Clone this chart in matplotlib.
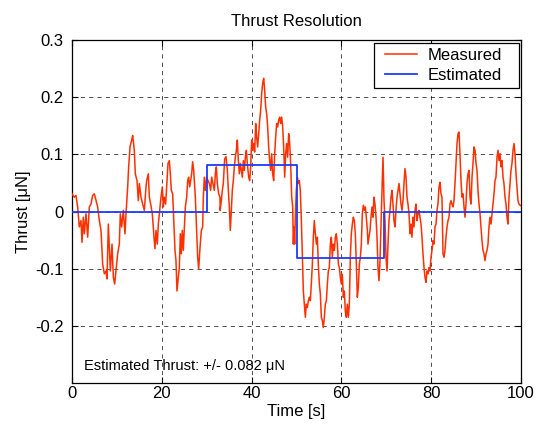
import matplotlib
matplotlib.use("Agg")
import matplotlib.pyplot as plt
from matplotlib.lines import Line2D
from matplotlib.legend_handler import HandlerLine2D

plt.rcParams['font.family'] = ['Liberation Sans', 'DejaVu Sans']
plt.rcParams['lines.scale_dashes'] = False

# ---- Measured thrust ----
t_a = [0, 0.52, 0.89, 1.26, 1.63, 2.0, 2.23, 2.52, 2.75, 3.12, 3.49, 3.86, 4.23, 4.6, 4.97, 5.35, 5.72,
       6.09, 6.46, 6.83, 7.2, 7.57, 7.8, 8.09, 8.32, 8.54, 8.91, 9.21, 9.5, 9.8, 10.17, 10.54, 10.76,
       11.06, 11.43, 11.8, 12.03, 12.4, 12.62, 12.92, 13.29, 13.51, 13.88, 14.1, 14.48, 14.77, 15.0,
       15.37, 15.74, 16.11, 16.48]
v_a = [0.031, 0.025, 0.028, 0.008, -0.027, -0.016, -0.054, -0.010, -0.039, -0.004, -0.045, 0.008,
       0.013, 0.028, 0.031, 0.019, 0.008, -0.016, -0.033, -0.092, -0.109, -0.104, -0.118, -0.022,
       -0.063, -0.104, -0.057, -0.115, -0.127, -0.104, -0.074, -0.057, -0.004, -0.027, 0.002, -0.039,
       -0.004, 0.043, 0.078, 0.113, 0.125, 0.133, 0.107, 0.066, 0.054, 0.019, 0.049, 0.025, 0.013,
       0.002, 0.043]

t_b = [16.63, 17.0, 17.22, 17.52, 17.89, 18.26, 18.48, 18.71, 19.0, 19.23, 19.6, 19.82, 20.12, 20.34,
       20.56, 20.86, 21.09, 21.38, 21.68, 21.9, 22.12, 22.42, 22.64, 22.94, 23.16, 23.38, 23.61, 23.9,
       24.13, 24.35, 24.57, 24.79, 25.02, 25.24, 25.54, 25.76, 25.98, 26.21, 26.43, 26.65, 26.87, 27.1,
       27.24, 27.47, 27.77, 27.99, 28.21, 28.51, 28.81, 29.1, 29.25, 29.47, 29.7, 29.99, 30.29, 30.59,
       30.88, 31.11, 31.4, 31.7, 31.92, 32.15, 32.37, 32.67, 32.96]
v_b = [0.054, 0.066, 0.025, 0.013, -0.004, -0.045, -0.065, -0.033, -0.057, -0.022, 0.008, 0.025,
       0.043, 0.008, 0.025, 0.013, 0.043, 0.084, 0.089, 0.066, 0.037, 0.031, -0.010, -0.068, -0.086,
       -0.139, -0.121, -0.098, -0.039, -0.074, -0.033, -0.068, -0.027, 0.008, 0.025, 0.054, 0.060,
       0.043, 0.054, 0.066, 0.087, 0.072, 0.054, 0.025, -0.033, -0.080, -0.101, -0.063, -0.033,
       -0.027, 0.025, 0.060, 0.037, 0.060, 0.054, 0.049, 0.037, 0.060, 0.049, 0.037, 0.066, 0.078,
       0.049, 0.031, 0.025]

t_c = [33.0, 33.26, 33.48, 33.7, 34.0, 34.3, 34.6, 34.82, 35.04, 35.26, 35.48, 35.71, 35.93, 36.15,
       36.38, 36.6, 36.82, 37.05, 37.27, 37.49, 37.71, 37.94, 38.16, 38.38, 38.61, 38.83, 39.05, 39.35,
       39.57, 39.79, 40.02, 40.24, 40.46, 40.68, 40.91, 41.13, 41.35, 41.57, 41.8, 42.02, 42.24, 42.46,
       42.69, 42.91, 43.13, 43.36, 43.58, 43.8, 44.02, 44.25, 44.47, 44.69, 44.92, 45.14, 45.36, 45.58,
       45.81, 46.03, 46.25, 46.47, 46.7, 46.92, 47.14, 47.37, 47.59, 47.81, 48.03, 48.26, 48.48, 48.7,
       48.93, 49.15, 49.3, 49.44]
v_c = [0.002, 0.019, 0.037, 0.049, 0.092, 0.096, 0.072, 0.037, 0.008, -0.033, 0.002, 0.037, 0.054,
       0.078, 0.095, 0.107, 0.125, 0.089, 0.066, 0.084, 0.072, 0.060, 0.089, 0.072, 0.095, 0.107,
       0.084, 0.060, 0.054, 0.078, 0.125, 0.107, 0.119, 0.104, 0.154, 0.130, 0.113, 0.136, 0.160,
       0.177, 0.206, 0.224, 0.233, 0.212, 0.183, 0.171, 0.148, 0.113, 0.089, 0.072, 0.101, 0.066,
       0.054, 0.101, 0.130, 0.154, 0.148, 0.160, 0.165, 0.154, 0.165, 0.148, 0.113, 0.060, 0.101,
       0.119, 0.095, 0.136, 0.119, 0.084, 0.025, 0.008, -0.057, -0.027]

t_d = [49.59, 49.74, 49.96, 50.19, 50.41, 50.63, 50.85, 51.08, 51.3, 51.52, 51.75, 51.97, 52.19, 52.41,
       52.64, 52.86, 53.08, 53.3, 53.53, 53.75, 53.97, 54.2, 54.42, 54.64, 54.86, 55.09, 55.31, 55.53,
       55.76, 55.98, 56.2, 56.42, 56.65, 56.87, 57.09, 57.31, 57.54, 57.76, 57.98, 58.2, 58.43, 58.65,
       58.87, 59.1, 59.32, 59.54, 59.76, 59.99, 60.21, 60.43, 60.65, 60.88, 61.1, 61.32, 61.55, 61.77,
       61.99, 62.21, 62.44, 62.66, 62.88, 63.1, 63.33, 63.55, 63.77, 64.0, 64.22, 64.44, 64.66, 64.89,
       65.11, 65.33, 65.55, 65.78, 65.92]
v_d = [-0.057, -0.010, 0.037, 0.060, 0.049, 0.054, 0.037, -0.016, -0.074, -0.139, -0.162, -0.185,
       -0.162, -0.168, -0.156, -0.150, -0.156, -0.127, -0.092, -0.045, -0.016, -0.039, -0.057, -0.045,
       -0.092, -0.127, -0.144, -0.185, -0.191, -0.203, -0.185, -0.162, -0.156, -0.127, -0.104, -0.098,
       -0.057, -0.045, -0.080, -0.057, -0.068, -0.045, -0.039, -0.057, -0.092, -0.098, -0.115, -0.127,
       -0.110, -0.150, -0.139, -0.175, -0.185, -0.162, -0.185, -0.162, -0.080, -0.039, -0.022, -0.010,
       -0.016, -0.039, -0.092, -0.150, -0.133, -0.092, -0.080, -0.057, -0.004, 0.011, 0.002, 0.008,
       -0.010, -0.033, -0.057]

t_e = [66.15, 66.37, 66.59, 66.82, 67.04, 67.26, 67.48, 67.71, 67.93, 68.15, 68.37, 68.6, 68.82, 69.04,
       69.27, 69.49, 69.71, 69.93, 70.16, 70.38, 70.6, 70.82, 71.05, 71.27, 71.49, 71.71, 71.94, 72.16,
       72.38, 72.61, 72.83, 73.05, 73.27, 73.5, 73.72, 73.94, 74.16, 74.39, 74.61, 74.83, 75.06, 75.28,
       75.5, 75.72, 75.95, 76.17, 76.39, 76.61, 76.84, 77.06, 77.28, 77.51, 77.73, 77.95, 78.17, 78.4,
       78.62, 78.84, 79.06, 79.29, 79.51, 79.73, 79.96, 80.18, 80.4, 80.62, 80.85, 81.07, 81.29, 81.51,
       81.74, 81.96, 82.18, 82.4]
v_e = [-0.045, -0.033, -0.010, 0.008, -0.010, 0.025, 0.013, -0.010, -0.045, -0.098, -0.121, -0.086,
       -0.022, 0.037, 0.095, 0.019, -0.016, -0.080, -0.104, -0.057, -0.016, 0.002, 0.025, 0.037, 0.013,
       -0.016, -0.027, 0.002, 0.025, 0.037, 0.049, 0.031, 0.013, 0.002, 0.019, 0.049, 0.075, 0.060,
       0.025, 0.013, -0.004, -0.039, -0.022, -0.045, -0.010, -0.027, 0.002, 0.013, -0.016, -0.004,
       0.002, -0.010, -0.022, -0.045, -0.074, -0.098, -0.115, -0.124, -0.104, -0.109, -0.098, -0.104,
       -0.080, -0.068, -0.051, -0.057, -0.027, -0.022, 0.002, 0.013, 0.043, 0.051, 0.031, 0.025]

t_f = [82.63, 82.85, 83.07, 83.3, 83.52, 83.74, 83.96, 84.19, 84.41, 84.63, 84.86, 85.08, 85.3, 85.52,
       85.75, 85.97, 86.19, 86.41, 86.64, 86.86, 87.08, 87.31, 87.53, 87.75, 87.97, 88.2, 88.42, 88.64,
       88.86, 89.09, 89.31, 89.53, 89.76, 89.98, 90.2, 90.42, 90.65, 90.87, 91.09, 91.31, 91.54, 91.76,
       91.98, 92.21, 92.43, 92.65, 92.87, 93.1, 93.32, 93.54, 93.76, 93.99, 94.21, 94.43, 94.66, 94.88,
       95.1, 95.32, 95.55, 95.77, 95.99, 96.21, 96.44, 96.66, 96.88, 97.1, 97.33, 97.55, 97.77, 97.99,
       98.22, 98.44, 98.66, 98.89, 99.11, 99.33, 99.55, 99.78, 100.0]
v_f = [-0.074, -0.080, -0.068, -0.045, -0.027, -0.016, -0.010, 0.013, 0.019, 0.013, 0.008, 0.019,
       0.049, 0.084, 0.119, 0.136, 0.139, 0.101, 0.054, 0.025, 0.031, 0.008, -0.010, 0.013, 0.049,
       0.066, 0.072, 0.025, 0.013, 0.060, 0.084, 0.113, 0.107, 0.084, 0.072, 0.037, 0.013, -0.004,
       -0.027, -0.051, -0.068, -0.074, -0.086, -0.074, -0.068, -0.057, -0.027, -0.010, -0.022, -0.004,
       0.013, 0.031, 0.054, 0.060, 0.095, 0.107, 0.089, 0.101, 0.078, 0.089, 0.060, 0.049, 0.025,
       0.013, -0.010, -0.022, 0.025, 0.049, 0.072, 0.084, 0.107, 0.119, 0.101, 0.066, 0.043, 0.019,
       0.013, 0.011, 0.010]

# ---- Estimated thrust (step levels) ----
est_t = [0, 30, 50, 69.5, 100]
est_v = [0, 0.082, -0.082, 0, 0]

x_ticks = [0, 20, 40, 60, 80, 100]
y_ticks = [-0.2, -0.1, 0, 0.1, 0.2, 0.3]
y_tick_labels = ['-0.2', '-0.1', '0', '0.1', '0.2', '0.3']

meas_t = t_a + t_b + t_c + t_d + t_e + t_f
meas_v = v_a + v_b + v_c + v_d + v_e + v_f

FS = 12

fig = plt.figure(figsize=(5.41, 4.24), dpi=100)
ax = fig.add_axes([72/541, 1 - 383/424, 449/541, 343/424])

red = '#ff3000'
blue = '#1a3cff'
ax.plot(meas_t, meas_v, color=red, lw=1.1, label='Measured', zorder=3)
ax.plot(est_t, est_v, color=blue, lw=1.3, drawstyle='steps-post', label='Estimated', zorder=4)

ax.set_xlim(0, 100)
ax.set_ylim(-0.3, 0.3)
ax.set_xticks(x_ticks)
ax.set_xticklabels([str(v) for v in x_ticks])
ax.set_yticks(y_ticks)
ax.set_yticklabels(y_tick_labels)
ax.tick_params(axis='both', direction='in', length=4, width=0.8, top=True, right=True,
               labelsize=FS, colors='black')
ax.tick_params(axis='x', pad=2)
ax.tick_params(axis='y', pad=6)
ax.grid(True, color='black', linestyle=(0, (3, 3)), linewidth=0.6, alpha=0.8)
for s in ax.spines.values():
    s.set_linewidth(0.9)
    s.set_color('black')

ax.set_title('Thrust Resolution', fontsize=FS, pad=10)
ax.set_xlabel('Time [s]', fontsize=FS, labelpad=2)
ax.set_ylabel('Thrust [μN]', fontsize=FS, labelpad=3)

ax.text(2.6, -0.270, 'Estimated Thrust: +/- 0.082 μN', fontsize=10.5, va='center', ha='left')

leg = ax.legend(loc='upper left', bbox_to_anchor=(0.6726, 0.0, 0.3229, 0.9913), mode='expand',
                fontsize=FS, frameon=True, fancybox=False, framealpha=1, edgecolor='black',
                borderpad=0.3, handlelength=2.63, labelspacing=0.3, handletextpad=0.3,
                borderaxespad=0.0,
                handler_map={Line2D: HandlerLine2D(numpoints=2, marker_pad=0.36)})
leg.get_frame().set_linewidth(0.9)

fig.savefig('out.png', dpi=100)
